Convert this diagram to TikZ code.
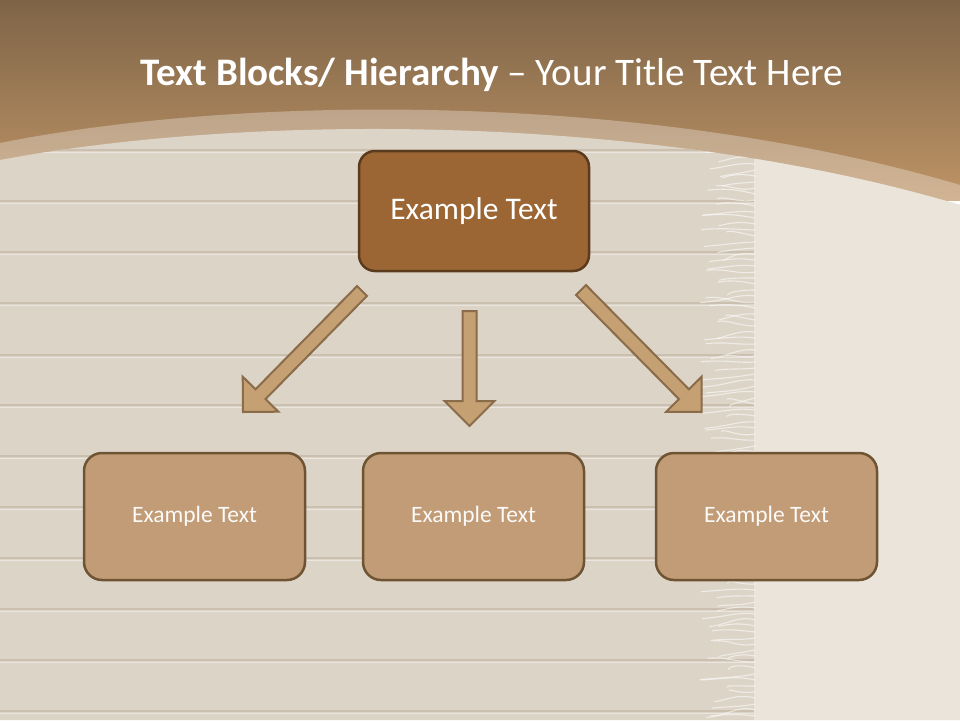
\documentclass[tikz,border=0pt]{standalone}
\usepackage{fontspec}
\setmainfont{Carlito}
\usetikzlibrary{calc}

\definecolor{bandtop}{HTML}{7E6447}
\definecolor{bandbot}{HTML}{BE9466}
\definecolor{plank}{HTML}{DDD4C8}
\definecolor{plankline}{HTML}{CBBFAF}
\definecolor{cloth}{HTML}{EAE4DB}
\definecolor{headfill}{HTML}{9B6633}
\definecolor{headline}{HTML}{5B3B1D}
\definecolor{boxfill}{HTML}{C19C76}
\definecolor{boxline}{HTML}{6F5434}
\definecolor{arrfill}{HTML}{C4A073}
\definecolor{arrline}{HTML}{8A6C4A}

\tikzset{
  headbox/.style={draw=headline, fill=headfill, line width=2.5pt, rounded corners=16pt,
    minimum width=230pt, minimum height=120pt, text=white, font=\fontsize{31.5}{36}\selectfont},
  childbox/.style={draw=boxline, fill=boxfill, line width=2.5pt, rounded corners=18pt,
    minimum width=221pt, minimum height=127pt, text=white!95!boxfill, font=\fontsize{23.5}{28}\selectfont},
  arrowbody/.style={draw=arrline, fill=arrfill, line width=2pt, line join=miter},
}

% block arrow from tail #1 to tip #2
\newcommand{\blockarrow}[2]{%
  \coordinate (ba-n) at ($(#2)!25pt!(#1)$);
  \filldraw[arrowbody] ($(#1)!7pt!90:(#2)$) -- ($(ba-n)!7pt!90:(#2)$) -- ($(ba-n)!25pt!90:(#2)$)
    -- (#2) -- ($(ba-n)!25pt!-90:(#2)$) -- ($(ba-n)!7pt!-90:(#2)$) -- ($(#1)!7pt!-90:(#2)$) -- cycle;}

\begin{document}
\begin{tikzpicture}[x=1pt,y=-1pt]
\useasboundingbox (0,0) rectangle (960,720);
%背景
\shade[top color=bandtop, bottom color=bandbot] (0,0) rectangle (960,200);
\fill[white, opacity=0.3] (0,143) .. controls (250,93) and (650,93) .. (960,185) -- (960,720) -- (0,720) -- cycle;
\fill[plank] (0,160) .. controls (250,113) and (650,113) .. (960,205) -- (960,720) -- (0,720) -- cycle;
\begin{scope}
\clip (0,160) .. controls (250,113) and (650,113) .. (960,205) -- (960,720) -- (0,720) -- cycle;
%木板
\foreach \y in {150,201,252,303,355,405,456,507,558,609,660,711}{
  \draw[plankline, line width=2pt] (0,\y) -- (760,\y);
  \draw[white, opacity=0.4, line width=1.5pt] (0,\y+2.5) -- (760,\y+2.5);
}
%布
\fill[cloth] (754,100) -- (960,100) -- (960,720) -- (754,720) -- cycle;
\pgfmathsetseed{11}
\foreach \y in {140,146,...,716}{
  \pgfmathsetmacro{\fx}{700+30*rnd}
  \pgfmathsetmacro{\fy}{\y+14*rnd-7}
  \pgfmathsetmacro{\fc}{\y+10*rnd-5}
  \draw[white, opacity=0.55, line width=1.1pt, line cap=round] (755,\y) .. controls (738,\fc) and (728,\fy) .. (\fx,\fy+2);
}
\end{scope}
%Text
\node (title) at (492,75) [text=white, font=\fontsize{39}{46}\selectfont]
  {\textbf{Text Blocks/ Hierarchy} – Your Title Text Here};
%方框
\node (top) at (474,211) [headbox] {Example Text};
\node (left) at (194.5,516.5) [childbox] {Example Text};
\node (mid) at (473.5,516.5) [childbox] {Example Text};
\node (right) at (766.5,516.5) [childbox] {Example Text};
%箭头
\coordinate (l-tail) at (362,291);
\coordinate (l-tip) at (243,412);
\coordinate (m-tail) at (469.5,311);
\coordinate (m-tip) at (469.5,426);
\coordinate (r-tail) at (581,290);
\coordinate (r-tip) at (701.5,412);
\blockarrow{l-tail}{l-tip}
\blockarrow{m-tail}{m-tip}
\blockarrow{r-tail}{r-tip}
\end{tikzpicture}
\end{document}
